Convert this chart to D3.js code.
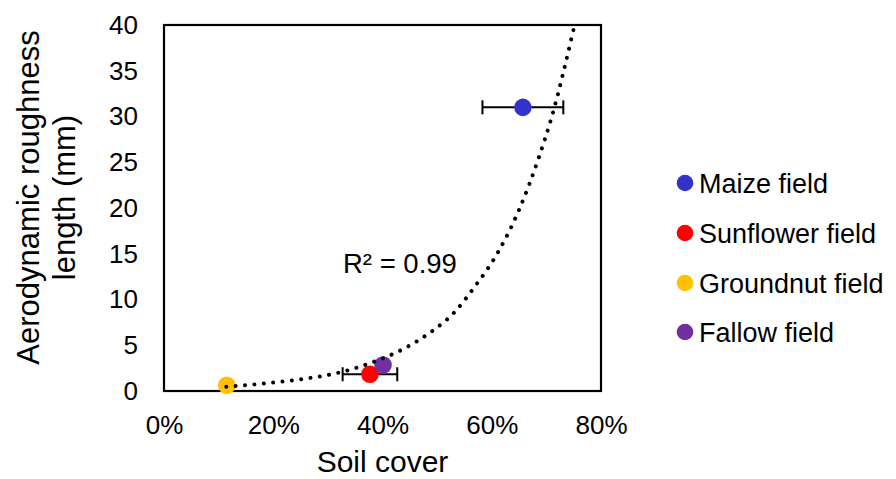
<!DOCTYPE html>
<html>
<head>
<meta charset="utf-8">
<script src="https://cdn.jsdelivr.net/npm/d3@7"></script>
<style>
  html, body { margin: 0; padding: 0; background: #fff; }
  svg { display: block; font-family: "Liberation Sans", Arial, sans-serif; }
</style>
</head>
<body>
<svg id="chart" width="896" height="479"></svg>
<script>
// Field observations: soil cover (fraction) vs aerodynamic roughness length (mm)
const fields = ["Maize field", "Sunflower field", "Groundnut field", "Fallow field"];
const soilCover = [0.657, 0.377, 0.115, 0.401];
const roughness = [31.0, 1.83, 0.62, 2.84];
const coverErr = [0.074, 0.05, 0, 0];
const fieldColors = ["#3333cc", "#ff0000", "#ffc000", "#7030a0"];

// Exponential trendline, sampled along its course
const trendX = [0.114, 0.18, 0.25, 0.32, 0.38, 0.435, 0.485, 0.53, 0.57, 0.61, 0.65, 0.685, 0.71, 0.75];
const trendY = [0.47, 0.80, 1.28, 2.0, 3.1, 4.5, 6.3, 8.5, 11.5, 15.0, 19.8, 25.3, 30.0, 39.6];
const r2Label = "R² = 0.99";

const xTicks = [0, 0.2, 0.4, 0.6, 0.8];
const yTicks = [0, 5, 10, 15, 20, 25, 30, 35, 40];

const svg = d3.select("#chart");
const plot = { left: 164, right: 601, top: 25, bottom: 391 };

const x = d3.scaleLinear().domain([0, 0.8]).range([plot.left, plot.right]);
const y = d3.scaleLinear().domain([0, 40]).range([plot.bottom, plot.top]);

// Axes (labels only; the frame is drawn separately)
const yAxis = svg.append("g")
  .attr("transform", `translate(${plot.left},0)`)
  .call(d3.axisLeft(y).tickValues(yTicks).tickSize(0).tickPadding(26));
yAxis.select(".domain").remove();
yAxis.selectAll("text").attr("font-size", 26).attr("fill", "#000")
  .attr("font-family", "Liberation Sans, Arial, sans-serif");

const xAxis = svg.append("g")
  .attr("transform", `translate(0,${plot.bottom})`)
  .call(d3.axisBottom(x).tickValues(xTicks).tickSize(0).tickFormat(d3.format(".0%")));
xAxis.select(".domain").remove();
xAxis.selectAll("text").attr("font-size", 26).attr("fill", "#000")
  .attr("font-family", "Liberation Sans, Arial, sans-serif")
  .attr("dy", null).attr("y", 43);

// Plot frame
svg.append("rect")
  .attr("x", plot.left).attr("y", plot.top)
  .attr("width", plot.right - plot.left).attr("height", plot.bottom - plot.top)
  .attr("fill", "none").attr("stroke", "#000").attr("stroke-width", 2.2);

// Axis titles
svg.append("text")
  .attr("x", x(0.4)).attr("y", 472)
  .attr("text-anchor", "middle").attr("font-size", 30)
  .text("Soil cover");

const yTitle = svg.append("text")
  .attr("transform", "translate(0,197.5) rotate(-90)")
  .attr("text-anchor", "middle").attr("font-size", 31);
yTitle.append("tspan").attr("x", 0).attr("y", 39).text("Aerodynamic roughness");
yTitle.append("tspan").attr("x", 0).attr("y", 75).text("length (mm)");

// Clip for the trendline
svg.append("clipPath").attr("id", "plot-clip")
  .append("rect")
  .attr("x", plot.left).attr("y", plot.top)
  .attr("width", plot.right - plot.left).attr("height", plot.bottom - plot.top);

const points = fields.map((f, i) => ({
  name: f, cover: soilCover[i], z0: roughness[i], err: coverErr[i], color: fieldColors[i]
}));

// Horizontal error bars
const bars = svg.append("g").attr("stroke", "#000").attr("stroke-width", 2);
points.filter(d => d.err > 0).forEach(d => {
  const cy = y(d.z0);
  bars.append("line").attr("x1", x(d.cover - d.err)).attr("x2", x(d.cover + d.err))
    .attr("y1", cy).attr("y2", cy);
  [d.cover - d.err, d.cover + d.err].forEach(v => {
    bars.append("line").attr("x1", x(v)).attr("x2", x(v))
      .attr("y1", cy - 7).attr("y2", cy + 7);
  });
});

// Markers
svg.append("g").selectAll("circle").data(points).join("circle")
  .attr("cx", d => x(d.cover)).attr("cy", d => y(d.z0))
  .attr("r", 8.8).attr("fill", d => d.color);

// Dotted trendline
const trend = trendX.map((v, i) => [v, trendY[i]]);
svg.append("path")
  .attr("clip-path", "url(#plot-clip)")
  .attr("d", d3.line().x(d => x(d[0])).y(d => y(d[1])).curve(d3.curveMonotoneX)(trend))
  .attr("fill", "none").attr("stroke", "#000").attr("stroke-width", 4)
  .attr("stroke-linecap", "round").attr("stroke-dasharray", "0.01 9.4");

svg.append("text")
  .attr("x", 343).attr("y", 273).attr("font-size", 27.5)
  .text(r2Label);

// Legend
const legend = svg.append("g");
const rowY = [183, 233, 283, 332];
points.forEach((d, i) => {
  legend.append("circle").attr("cx", 685).attr("cy", rowY[i]).attr("r", 8.3).attr("fill", d.color);
  legend.append("text").attr("x", 699).attr("y", rowY[i] + 9.5)
    .attr("font-size", 27).text(d.name);
});
</script>
</body>
</html>
